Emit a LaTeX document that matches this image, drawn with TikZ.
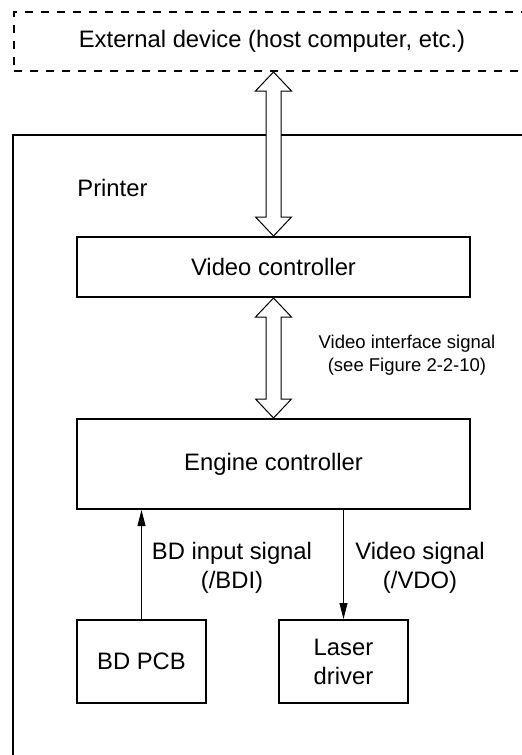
\documentclass[tikz,border=0pt]{standalone}
\usepackage{fontspec}
\setmainfont{Liberation Sans}
\usetikzlibrary{arrows.meta, calc}

% hollow two-headed arrow from tip #1 (top) to tip #2 (bottom)
\newcommand{\fatarrow}[2]{%
	\draw[fatline] (#1) -- ($(#1)+(18,19)$) -- ($(#1)+(7.5,19)$) -- ($(#2)+(7.5,-19)$)
		-- ($(#2)+(18,-19)$) -- (#2) -- ($(#2)+(-18,-19)$) -- ($(#2)+(-7.5,-19)$)
		-- ($(#1)+(-7.5,19)$) -- ($(#1)+(-18,19)$) -- cycle;
}

\begin{document}
\begin{tikzpicture}[x=0.5pt, y=-0.5pt,
		box/.style={draw, line width=1pt, inner sep=0pt, font=\fontsize{11.9}{14.5}\selectfont},
		fatline/.style={draw, fill=white, line width=0.5pt},
		sig/.style={line width=0.5pt, -{Triangle[length=8pt, width=4pt]}},
		label/.style={align=center, inner sep=0pt, font=\fontsize{11.9}{14.5}\selectfont},
		smalllabel/.style={align=center, inner sep=0pt, font=\fontsize{9.25}{11.5}\selectfont}]
	
	\useasboundingbox (0,0) rectangle (522,755);
	\clip (0,0) rectangle (522,755);
	
	% external device (runs off the right edge)
	\node[box, dashed, dash pattern=on 4pt off 4pt, minimum width=258pt, minimum height=29.5pt] (ext) at (272,41.5) {External device (host computer, etc.)};
	
	% printer frame
	\draw[line width=1pt] (540,135) -- (13,135) -- (13,790);
	\node[label, anchor=west] (printer) at (77,188) {Printer};
	
	% controllers
	\node[box, minimum width=196.5pt, minimum height=30pt] (vc) at (273.5,267) {Video controller};
	\node[box, minimum width=196.5pt, minimum height=45pt] (ec) at (273.5,464) {Engine controller};
	
	% BD and laser
	\node[box, minimum width=64.5pt, minimum height=41.5pt] (bd) at (141.5,661.5) {BD PCB};
	\node[box, minimum width=64.5pt, minimum height=41.5pt, align=center] (ld) at (343.5,661.5) {Laser\\driver};
	
	% interface arrows
	\coordinate (hostport) at (vc.north |- ext.south);
	\fatarrow{hostport}{vc.north}
	\fatarrow{vc.south}{ec.north}
	\node[smalllabel] (vif) at (407,355) {Video interface signal\\(see Figure 2-2-10)};
	
	% signal lines
	\draw[sig] (bd.north) -- (bd.north |- ec.south);
	\draw[sig] (ld.north |- ec.south) -- (ld.north);
	\node[label] (bdi) at (232,568) {BD input signal\\(/BDI)};
	\node[label] (vdo) at (420,568) {Video signal\\(/VDO)};
	
\end{tikzpicture}
\end{document}
